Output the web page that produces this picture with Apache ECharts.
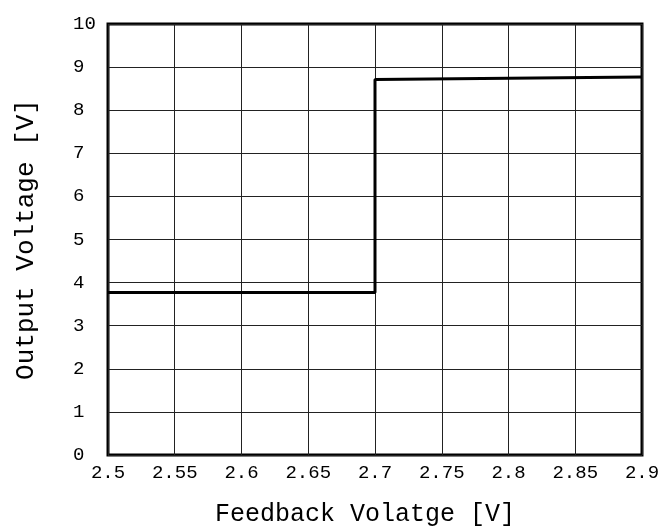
<!DOCTYPE html>
<html><head><meta charset="utf-8">
<script src="https://cdn.jsdelivr.net/npm/echarts@6/dist/echarts.min.js"></script>
<style>html,body{margin:0;padding:0;background:#fff}#c{width:667px;height:532px}</style>
</head><body><div id="c"></div>
<script>
var feedbackV = [2.5, 2.7, 2.7, 2.9];
var outputV = [3.77, 3.77, 8.71, 8.77];
var xTickLabels = ['2.5','2.55','2.6','2.65','2.7','2.75','2.8','2.85','2.9'];
var yTickLabels = ['0','1','2','3','4','5','6','7','8','9','10'];
var xName = 'Feedback Volatge [V]';
var yName = 'Output Voltage [V]';

var font = 'Liberation Mono';
var chart = echarts.init(document.getElementById('c'));
chart.setOption({
  animation: false,
  grid: {left: 108, right: 25, top: 24, bottom: 73, show: true, borderColor: '#000', borderWidth: 3, backgroundColor: 'transparent'},
  xAxis: {
    type: 'value', min: 2.5, max: 2.9, interval: 0.05,
    name: xName, nameLocation: 'middle', nameGap: 47,
    nameTextStyle: {fontFamily: font, fontSize: 25, color: '#000', padding: [0, 20, 0, 0]},
    axisLine: {show: false}, axisTick: {show: false},
    axisLabel: {fontFamily: font, fontSize: 19, color: '#000', margin: 8,
      formatter: function (v) { var i = Math.round((v - 2.5) / 0.05); return xTickLabels[i]; }},
    splitLine: {show: true, lineStyle: {color: '#222', width: 1}}
  },
  yAxis: {
    type: 'value', min: 0, max: 10, interval: 1,
    name: yName, nameLocation: 'middle', nameGap: 69,
    nameTextStyle: {fontFamily: font, fontSize: 26, color: '#000'},
    axisLine: {show: false}, axisTick: {show: false},
    axisLabel: {fontFamily: font, fontSize: 19, color: '#000', margin: 35, align: 'left',
      formatter: function (v) { return yTickLabels[Math.round(v)]; }},
    splitLine: {show: true, lineStyle: {color: '#222', width: 1}}
  },
  series: [{
    type: 'line', showSymbol: false, symbol: 'none',
    data: feedbackV.map(function (x, i) { return [x, outputV[i]]; }),
    lineStyle: {color: '#000', width: 3}, z: 5
  }]
});
</script></body></html>
